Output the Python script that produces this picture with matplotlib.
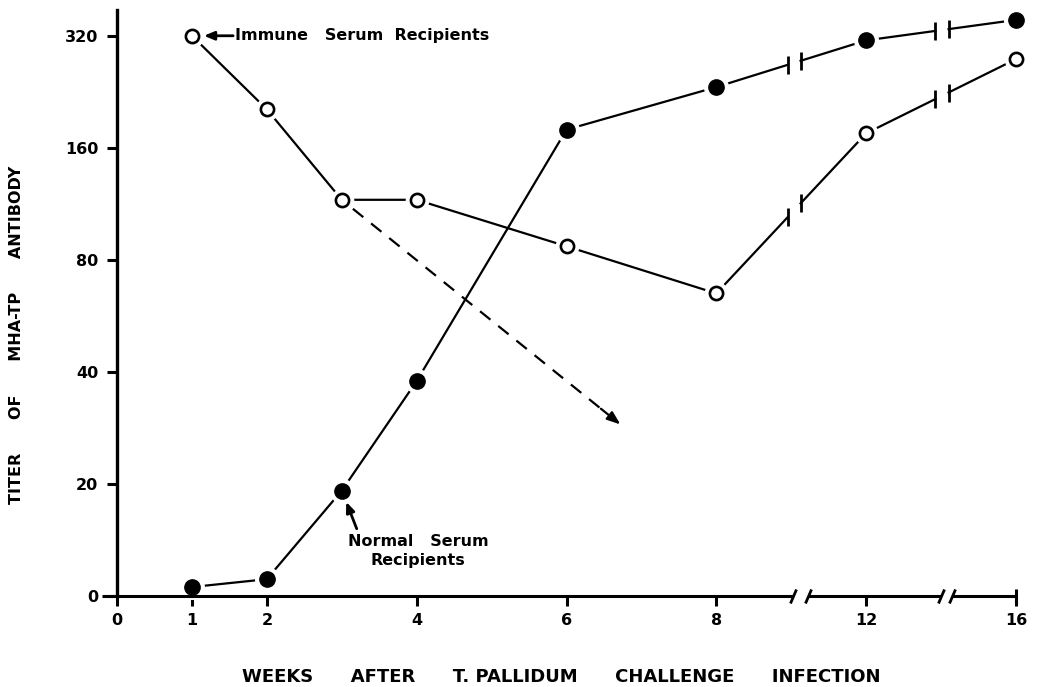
import numpy as np
import matplotlib
matplotlib.use('Agg')
import matplotlib.pyplot as plt
from matplotlib.markers import MarkerStyle
from matplotlib.transforms import Affine2D

# data (weeks after challenge, MHA-TP titer)
weeks = [1, 2, 3, 4, 6, 8, 12, 16]
immune_titer = [320, 203, 116, 116, 87, 65, 175, 277]
normal_titer = [1.6, 3, 18.8, 37.8, 179, 233, 311, 353]

xticks = [0, 1, 2, 4, 6, 8, 12, 16]
yticks = [0, 20, 40, 80, 160, 320]

# projected decline of immune group (dashed arrow)
proj_start = (3, 116)
proj_end = (6.72, 28.9)


# x: linear to 8 weeks, then compressed by half
def xf(w):
    w = np.asarray(w, dtype=float)
    return np.where(w <= 8, w, 8 + (w - 8) / 2)

def xi(p):
    p = np.asarray(p, dtype=float)
    return np.where(p <= 8, p, 8 + (p - 8) * 2)

# y: linear 0..20, doubling dilutions above
def yf(t):
    t = np.asarray(t, dtype=float)
    return np.where(t >= 20, np.log2(np.maximum(t, 1e-9) / 10), t / 20)

def yi(p):
    p = np.asarray(p, dtype=float)
    return np.where(p >= 1, 10 * 2 ** p, p * 20)


axis_breaks = [(10.05, 10.45), (14.0, 14.3)]
line_breaks = [(9.9, 10.25), (13.85, 14.2)]

lw = 1.6

fig = plt.figure(figsize=(10.37, 6.87), dpi=100)
ax = fig.add_axes([117 / 1037, 91 / 687, 899 / 1037, 586 / 687])
ax.set_xscale('function', functions=(xf, xi))
ax.set_yscale('function', functions=(yf, yi))
ax.set_xlim(0, 16)
ax.set_ylim(0, float(yi(5.23)))

for s in ['top', 'right', 'bottom']:
    ax.spines[s].set_visible(False)
ax.spines['left'].set_linewidth(2.4)

ax.set_xticks(xticks)
ax.set_xticklabels([str(v) for v in xticks])
ax.set_yticks(yticks)
ax.set_yticklabels([str(v) for v in yticks])
ax.tick_params(axis='both', direction='out', length=7.5, width=2.2,
               labelsize=11.5)
ax.tick_params(axis='x', pad=5)
ax.tick_params(axis='y', pad=6)
for lab in ax.get_xticklabels() + ax.get_yticklabels():
    lab.set_fontweight('bold')


def draw_broken(wk, tt, breaks, **kw):
    px = xf(wk)
    py = yf(tt)
    bpos = [(float(xf(a)), float(xf(b))) for a, b in breaks]
    segs = [[(px[0], py[0])]]
    ends = []
    for i in range(len(px) - 1):
        for b0, b1 in bpos:
            if px[i] < b0 and px[i + 1] > b1:
                ya = py[i] + (b0 - px[i]) / (px[i + 1] - px[i]) * (py[i + 1] - py[i])
                yb = py[i] + (b1 - px[i]) / (px[i + 1] - px[i]) * (py[i + 1] - py[i])
                segs[-1].append((b0, ya))
                ends += [(b0, ya), (b1, yb)]
                segs.append([(b1, yb)])
        segs[-1].append((px[i + 1], py[i + 1]))
    for s in segs:
        s = np.array(s)
        ax.plot(xi(s[:, 0]), yi(s[:, 1]), color='black', lw=lw,
                clip_on=False, zorder=2, **kw)
    e = np.array(ends)
    ax.plot(xi(e[:, 0]), yi(e[:, 1]), ls='none', marker='|', ms=13,
            mew=2, color='black', clip_on=False, zorder=2)


draw_broken(weeks, immune_titer, line_breaks)
draw_broken(weeks, normal_titer, line_breaks)

# white halos leave the small gaps round the points
ax.plot(weeks, immune_titer, ls='none', marker='o', ms=16, color='white',
        clip_on=False, zorder=3)
ax.plot(weeks, normal_titer, ls='none', marker='o', ms=17, color='white',
        clip_on=False, zorder=3)

# broken x axis line
xb = [-0.2, axis_breaks[0][0], axis_breaks[0][1], axis_breaks[1][0],
      axis_breaks[1][1], 16]
slash = MarkerStyle('|', transform=Affine2D().rotate_deg(-25))
for i in range(0, len(xb), 2):
    ax.plot([xb[i], xb[i + 1]], [0, 0], color='black', lw=2.2,
            clip_on=False, zorder=4, solid_capstyle='butt')
ax.plot(xb[1:5], [0] * 4, ls='none', marker=slash, ms=11, mew=2,
        color='black', clip_on=False, zorder=4)
ax.plot([16], [0], ls='none', marker='|', ms=10, mew=2.2,
        color='black', clip_on=False, zorder=4)

ax.plot(weeks, immune_titer, ls='none', marker='o', ms=9.5, mfc='white',
        mec='black', mew=1.9, clip_on=False, zorder=5)
ax.plot(weeks, normal_titer, ls='none', marker='o', ms=11, color='black',
        clip_on=False, zorder=5)

# dashed projection
ps = np.array([xf(proj_start[0]), yf(proj_start[1])], dtype=float)
pe = np.array([xf(proj_end[0]), yf(proj_end[1])], dtype=float)
p0 = ps + (pe - ps) * 0.04
p1 = ps + (pe - ps) * 0.93
ax.plot(xi([p0[0], p1[0]]), yi([p0[1], p1[1]]), color='black', lw=lw,
        ls=(0, (6, 4.5)), zorder=2)
ax.annotate('', xy=proj_end, xytext=(float(xi(p1[0])), float(yi(p1[1]))),
            arrowprops=dict(arrowstyle='-|>,head_length=0.8,head_width=0.3',
                            color='black', lw=lw, shrinkA=0, shrinkB=0))

# labels for the two groups
ax.annotate('', xy=(1.16, 320), xytext=(1.55, 320),
            arrowprops=dict(arrowstyle='-|>,head_length=0.6,head_width=0.25',
                            color='black', lw=2, shrinkA=0, shrinkB=0),
            annotation_clip=False)
ax.text(1.58, 320, 'Immune   Serum  Recipients', fontsize=11.5,
        fontweight='bold', ha='left', va='center')

ax.annotate('', xy=(3.06, 16.8), xytext=(3.2, 12.0),
            arrowprops=dict(arrowstyle='-|>,head_length=0.6,head_width=0.25',
                            color='black', lw=2, shrinkA=0, shrinkB=0))
ax.text(4.02, 8.0, 'Normal   Serum\nRecipients', fontsize=11.5,
        fontweight='bold', ha='center', va='center', linespacing=1.3)

fig.text(561 / 1037, 1 - 677 / 687,
         'WEEKS      AFTER      T. PALLIDUM      CHALLENGE      INFECTION',
         fontsize=13, fontweight='bold', ha='center', va='center')
fig.text(17 / 1037, 1 - 335 / 687, 'TITER      OF      MHA-TP      ANTIBODY',
         fontsize=11.5, fontweight='bold', ha='center', va='center',
         rotation=90)

fig.savefig('out.png', dpi=100)
